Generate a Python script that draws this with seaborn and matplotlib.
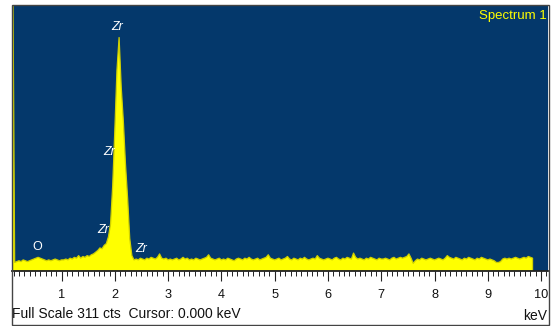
import numpy as np
import pandas as pd
import matplotlib
matplotlib.use("Agg")
import matplotlib.pyplot as plt
from matplotlib.patches import Rectangle
from matplotlib.ticker import MultipleLocator, FixedLocator
import seaborn as sns

# ---- spectrum data -------------------------------------------------------
CHANNEL_KEV = 0.04      # width of one channel
FIRST_KEV = 0.08        # centre of the first channel
FULL_SCALE = 311        # counts at the top of the display

counts = [
    400,
    # 0.12 - 1.00 keV
    10, 11, 12, 11, 13, 12, 11, 12, 13, 14, 15, 16, 15, 14, 13, 12, 13, 12, 13, 14, 13, 12, 13,
    # 1.04 - 1.80 keV
    13, 14, 13, 15, 14, 16, 15, 18, 15, 17, 16, 18, 17, 19, 20, 22, 24, 27, 26, 30,
    # 1.84 - 2.36 keV (Zr L lines)
    32, 40, 55, 100, 165, 235, 273, 215, 175, 125, 85, 38, 18, 13,
    # 2.40 - 3.00 keV
    14, 13, 15, 14, 13, 15, 14, 16, 15, 14, 16, 20, 15, 14, 15, 13,
    # 3.04 - 4.00 keV
    14, 13, 14, 15, 13, 14, 16, 14, 15, 13, 14, 13, 15, 14, 13, 14, 15, 16, 19, 15, 14, 13, 14, 15, 13,
    # 4.04 - 5.00 keV
    14, 13, 15, 14, 13, 12, 14, 15, 14, 13, 15, 14, 16, 14, 13, 14, 15, 13, 14, 15, 16, 19, 15, 14, 13,
    # 5.04 - 6.00 keV
    14, 15, 13, 14, 15, 17, 14, 13, 15, 14, 13, 15, 14, 16, 14, 13, 14, 15, 14, 18, 15, 14, 13, 14, 15,
    # 6.04 - 7.00 keV
    14, 13, 15, 16, 14, 13, 15, 14, 16, 15, 14, 21, 16, 14, 15, 14, 13, 15, 14, 16, 15, 14, 13, 15, 14,
    # 7.04 - 8.00 keV
    14, 15, 14, 13, 15, 16, 14, 15, 16, 15, 16, 17, 20, 15, 9, 12, 14, 13, 15, 14, 13, 14, 15, 14, 13,
    # 8.04 - 9.00 keV
    14, 15, 14, 13, 15, 18, 16, 15, 14, 16, 15, 14, 13, 15, 14, 16, 15, 14, 13, 15, 14, 16, 15, 14, 13,
    # 9.04 - 9.84 keV
    14, 13, 12, 10, 10, 11, 14, 15, 14, 15, 14, 15, 16, 15, 14, 15, 16, 15, 17, 16, 15,
]

energy = np.round(FIRST_KEV + CHANNEL_KEV * np.arange(len(counts)), 2)
spectrum = pd.DataFrame({"keV": energy, "cts": counts})
bin_range = (FIRST_KEV - CHANNEL_KEV / 2, float(energy[-1]) + CHANNEL_KEV / 2)

# element markers
peak_labels = ["Zr", "Zr", "Zr", "Zr", "O"]
label_kev = [2.036, 1.887, 1.784, 2.497, 0.54]
label_cts = [285, 139.5, 47.6, 26, 28.4]
label_style = ["italic", "italic", "italic", "italic", "normal"]

tick_values = [1, 2, 3, 4, 5, 6, 7, 8, 9, 10]
tick_labels = [str(v) for v in tick_values]

# ---- styling -------------------------------------------------------------
sns.set_style("white")
plt.rcParams["font.family"] = ["Liberation Sans", "DejaVu Sans"]

BG = "#04386B"
YELLOW = "#FFFF00"
W, H = 552, 326


def fx(px):
    return px / W


def fy(py):
    return 1 - py / H


fig = plt.figure(figsize=(W / 100, H / 100), dpi=100)
fig.patch.set_facecolor("white")

ax = fig.add_axes([fx(12), fy(271), fx(548) - fx(12), fy(5) - fy(271)])
ax.set_facecolor(BG)

sns.histplot(
    data=spectrum, x="keV", weights="cts",
    binwidth=CHANNEL_KEV, binrange=bin_range,
    element="poly", fill=True, color=YELLOW, alpha=1.0,
    edgecolor="#D0D000", linewidth=0.9, ax=ax,
)

ax.set_xlim(0.07, 10.13)
ax.set_ylim(0, FULL_SCALE)
ax.set_xlabel("")
ax.set_ylabel("")
ax.set_yticks([])

ax.xaxis.set_major_locator(FixedLocator(tick_values))
ax.set_xticklabels(tick_labels)
ax.xaxis.set_minor_locator(MultipleLocator(0.1))
ax.tick_params(axis="x", which="major", direction="out", length=7, width=0.8,
               color="#222222", labelsize=9.2, pad=6, labelcolor="#111111",
               bottom=True)
ax.tick_params(axis="x", which="minor", direction="out", length=3.6, width=0.7,
               color="#222222", bottom=True)

for side in ("left", "top", "right"):
    ax.spines[side].set_visible(False)
ax.spines["bottom"].set_color("#222222")
ax.spines["bottom"].set_linewidth(1.3)

for name, e, c, st in zip(peak_labels, label_kev, label_cts, label_style):
    ax.text(e, c, name, color="white", fontsize=9, style=st,
            ha="center", va="center")

# display captions
fig.text(fx(547), fy(16.5), "Spectrum 1", color=YELLOW, fontsize=9.5,
         ha="right", va="center")
fig.text(fx(12.5), fy(318.5), "Full Scale 311 cts  Cursor: 0.000 keV",
         color="#111111", fontsize=10, ha="left", va="baseline")
fig.text(fx(547), fy(319.5), "keV", color="#111111", fontsize=10,
         ha="right", va="baseline")

# outer frame of the spectrum window
fig.patches.append(Rectangle((fx(11.5), fy(324.5)), fx(549) - fx(11.5),
                             fy(4.5) - fy(324.5), transform=fig.transFigure,
                             fill=False, edgecolor="#444444", linewidth=1.0,
                             zorder=10))

fig.savefig("out.png", dpi=100, facecolor="white")
